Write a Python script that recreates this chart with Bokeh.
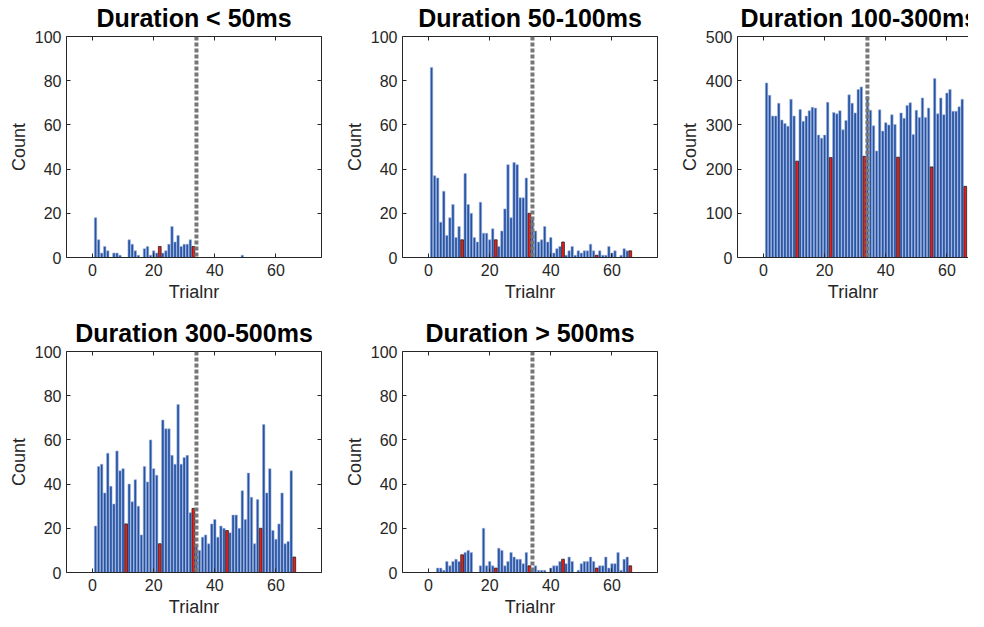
from bokeh.plotting import figure
from bokeh.models import (Range1d, LinearAxis, FixedTicker, Span,
                          CustomLabelingPolicy)
from bokeh.layouts import row, column
from bokeh.embed import file_html
from bokeh.resources import INLINE

# ---------------- data ----------------
trials = list(range(1, 67))
red_trials = [11, 22, 33, 44, 55, 66]
split_trial = 34

titles = ["Duration < 50ms", "Duration 50-100ms", "Duration 100-300ms",
          "Duration 300-500ms", "Duration > 500ms"]

count_lt50 = [18, 8, 2, 5, 3, 0, 2, 2, 1, 0,
              0, 8, 6, 3, 1, 0, 4, 5, 1, 3,
              2, 5, 2, 3, 6, 14, 7, 10, 5, 6,
              6, 8, 5, 0, 0, 0, 0, 0, 0, 0,
              0, 0, 0, 0, 0, 0, 0, 0, 1, 0,
              0, 0, 0, 0, 0, 0, 0, 0, 0, 0,
              0, 0, 0, 0, 0, 0]
count_50_100 = [86, 37, 36, 16, 30, 10, 18, 24, 9, 14,
                8, 38, 24, 20, 9, 7, 25, 11, 11, 8,
                13, 8, 5, 12, 22, 42, 18, 43, 42, 27,
                27, 36, 20, 17, 12, 7, 8, 14, 7, 9,
                2, 4, 5, 7, 1, 3, 5, 1, 3, 2,
                3, 3, 6, 3, 1, 3, 1, 1, 5, 2,
                3, 0, 1, 4, 3, 3]
count_100_300 = [395, 367, 320, 320, 349, 311, 303, 297, 358, 320,
                 218, 335, 308, 320, 332, 340, 338, 277, 270, 277,
                 351, 226, 328, 325, 332, 289, 310, 368, 349, 327,
                 380, 386, 229, 365, 333, 298, 241, 334, 286, 305,
                 300, 323, 301, 227, 327, 315, 344, 350, 278, 333,
                 317, 361, 317, 338, 205, 405, 325, 361, 323, 372,
                 380, 331, 331, 341, 358, 161]
count_300_500 = [21, 48, 49, 36, 54, 39, 31, 55, 46, 47,
                 22, 40, 32, 42, 30, 17, 48, 41, 60, 47,
                 44, 13, 69, 65, 65, 53, 49, 76, 49, 52,
                 53, 27, 29, 12, 10, 16, 17, 13, 22, 24,
                 16, 21, 20, 19, 18, 26, 26, 20, 37, 24,
                 45, 34, 13, 33, 20, 67, 36, 47, 19, 15,
                 22, 36, 13, 14, 46, 7]
count_gt500 = [0, 0, 2, 2, 1, 5, 3, 5, 6, 5,
               8, 9, 10, 9, 0, 0, 3, 20, 3, 5,
               3, 2, 11, 10, 3, 5, 9, 7, 6, 6,
               4, 9, 3, 1, 3, 1, 1, 1, 0, 2,
               3, 3, 5, 6, 4, 7, 5, 0, 1, 4,
               5, 5, 7, 5, 2, 3, 3, 7, 2, 4,
               4, 9, 1, 6, 7, 3]

x_ticks = [0, 20, 40, 60]
y_ticks_100 = [0, 20, 40, 60, 80, 100]
y_ticks_500 = [0, 100, 200, 300, 400, 500]

# ---------------- style ----------------
FONT = "Liberation Sans"
AX = "#262626"
BLUE = "#2452A4"
BLUE_EDGE = "#a3b6de"
RED = "#ec1c1c"

NO_LABELS = CustomLabelingPolicy(
    code="for (let i = 0; i < indices.size; i++) { indices.unset(i) }\nreturn indices")


def style_axis(ax, labels=True):
    ax.axis_line_color = AX
    ax.axis_line_width = 1
    ax.major_tick_in = 4
    ax.major_tick_out = 0
    ax.major_tick_line_color = AX
    ax.minor_tick_line_color = None
    ax.major_label_text_font = FONT
    ax.major_label_text_color = AX
    ax.axis_label_text_font = FONT
    ax.axis_label_text_font_size = "18px"
    ax.axis_label_text_font_style = "normal"
    ax.axis_label_text_color = AX
    if labels:
        ax.major_label_text_font_size = "16px"
    else:
        ax.major_label_text_font_size = "1px"
        ax.major_label_standoff = 0
        ax.major_label_policy = NO_LABELS


def panel(title, counts, ymax, yticks, frame_w, xmax, left, right, top, bottom,
          right_axis=True, title_offset=None):
    p = figure(frame_width=frame_w, frame_height=221,
               x_range=Range1d(-8.5, xmax), y_range=Range1d(0, ymax),
               output_backend="svg", toolbar_location=None,
               min_border_left=left, min_border_right=right,
               min_border_top=top, min_border_bottom=bottom)
    p.outline_line_color = None
    p.grid.visible = False
    p.background_fill_color = "white"
    p.border_fill_color = "white"

    blue_x = [t for t in trials if t not in red_trials]
    blue_y = [c for t, c in zip(trials, counts) if t not in red_trials]
    red_x = [t for t in trials if t in red_trials]
    red_y = [c for t, c in zip(trials, counts) if t in red_trials]

    p.vbar(x=blue_x, top=blue_y, width=0.8, fill_color=BLUE,
           line_color=BLUE_EDGE, line_width=0.6)
    p.vbar(x=red_x, top=red_y, width=0.9, fill_color=RED,
           line_color="#222222", line_width=0.8)

    p.add_layout(Span(location=split_trial, dimension="height",
                      line_color="#777777", line_width=4, line_dash="4 2"))

    p.xaxis.ticker = FixedTicker(ticks=x_ticks)
    p.yaxis.ticker = FixedTicker(ticks=yticks)
    p.xaxis.axis_label = "Trialnr"
    p.yaxis.axis_label = "Count"
    style_axis(p.xaxis[0])
    style_axis(p.yaxis[0])
    p.xaxis.major_label_standoff = 6
    p.xaxis.axis_label_standoff = 3
    p.yaxis.major_label_standoff = 5
    p.yaxis.axis_label_standoff = 3

    top_ax = LinearAxis(ticker=FixedTicker(ticks=x_ticks))
    style_axis(top_ax, labels=False)
    p.add_layout(top_ax, "above")
    if right_axis:
        r_ax = LinearAxis(ticker=FixedTicker(ticks=yticks))
        style_axis(r_ax, labels=False)
        p.add_layout(r_ax, "right")

    p.title.text = title
    p.title.text_font = FONT
    p.title.text_font_size = "25px"
    p.title.text_font_style = "bold"
    p.title.text_color = "#000000"
    p.title.standoff = 2
    if title_offset is None:
        p.title.align = "center"
    else:
        p.title.align = "left"
        p.title.offset = title_offset
    return p


p1 = panel(titles[0], count_lt50, 100, y_ticks_100, 255, 74.9, 66, 18, 33, 52)
p2 = panel(titles[1], count_50_100, 100, y_ticks_100, 255, 74.9, 63, 17, 33, 52)
p3 = panel(titles[2], count_100_300, 500, y_ticks_500, 231, 67.06, 63, 0, 33, 52,
           right_axis=False, title_offset=3)
p4 = panel(titles[3], count_300_500, 100, y_ticks_100, 255, 74.9, 66, 18, 42, 45)
p5 = panel(titles[4], count_gt500, 100, y_ticks_100, 255, 74.9, 63, 17, 42, 45)

layout = column(row(p1, p2, p3), row(p4, p5))

open("out.html", "w").write(file_html(layout, INLINE))
